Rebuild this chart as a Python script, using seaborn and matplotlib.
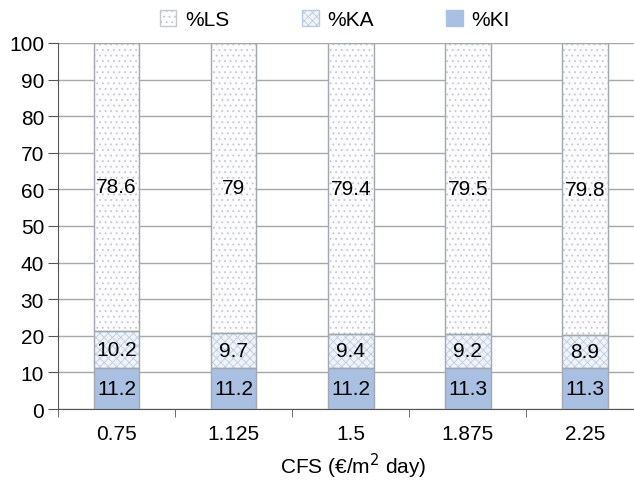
import matplotlib
matplotlib.use("Agg")
import matplotlib.pyplot as plt
import seaborn as sns
import pandas as pd
from matplotlib.patches import Patch

# data
cfs = ["0.75", "1.125", "1.5", "1.875", "2.25"]
ki = [11.2, 11.2, 11.2, 11.3, 11.3]
ka = [10.2, 9.7, 9.4, 9.2, 8.9]
ls = [78.6, 79.0, 79.4, 79.5, 79.8]
ls_labels = ["78.6", "79", "79.4", "79.5", "79.8"]

df = pd.DataFrame({"CFS": cfs, "KI": ki, "KA": ka, "LS": ls})
df["KA_bottom"] = df["KI"]
df["LS_bottom"] = df["KI"] + df["KA"]

sns.set_style("white")
plt.rcParams["font.family"] = ["Liberation Sans", "DejaVu Sans"]
plt.rcParams["hatch.linewidth"] = 0.6
plt.rcParams["text.color"] = "black"
plt.rcParams["xtick.color"] = "black"
plt.rcParams["ytick.color"] = "black"
plt.rcParams["axes.labelcolor"] = "black"

fig = plt.figure(figsize=(6.34, 4.81), dpi=100)
ax = fig.add_axes([58 / 634, 1 - 410 / 481, 585.5 / 634, 366 / 481])

W = 0.39
edge = "#a2a8b0"
FS = 15

# layers: (column, bottom, face, hatch, hatch colour)
layers = [
    ("KI", None, "#a9c0e2", "", "#a9c0e2"),
    ("KA", "KA_bottom", "#f0f4fa", "xxxx", "#b9cbe2"),
    ("LS", "LS_bottom", "#fcfcfd", "...", "#c4c9cf"),
]

for col, bcol, face, hatch, hcol in layers:
    bottom = df[bcol].values if bcol else 0
    sns.barplot(data=df, x="CFS", y=col, bottom=bottom, width=W, color=face,
                saturation=1, hatch=hatch, edgecolor=hcol, linewidth=0,
                ax=ax, zorder=2)
    sns.barplot(data=df, x="CFS", y=col, bottom=bottom, width=W, color="white",
                fill=False, edgecolor=edge, linewidth=1.0, ax=ax, zorder=3)

# value labels in the middle of each segment
for i in range(len(cfs)):
    ax.text(i, ki[i] / 2, f"{ki[i]:.1f}", ha="center", va="center",
            fontsize=FS, zorder=4)
    ax.text(i, ki[i] + ka[i] / 2, f"{ka[i]:.1f}", ha="center", va="center",
            fontsize=FS, zorder=4)
    ax.text(i, ki[i] + ka[i] + ls[i] / 2, ls_labels[i], ha="center",
            va="center", fontsize=FS, zorder=4)

ax.set_xlim(-0.5, 4.5)
ax.set_ylim(0, 100)
ax.set_yticks(range(0, 101, 10))
ax.yaxis.grid(True, color="#a8a8a8", linewidth=1.0, zorder=0)
ax.set_axisbelow(True)

for s in ["top", "right"]:
    ax.spines[s].set_visible(False)
ax.spines["left"].set_color("#555555")
ax.spines["bottom"].set_color("#555555")
ax.spines["left"].set_zorder(5)

ax.tick_params(axis="y", direction="out", length=7, color="#555555",
               labelsize=FS, left=True, pad=3)
ax.tick_params(axis="x", which="major", length=0, labelsize=FS, pad=11)
ax.set_xticks([i + 0.5 for i in range(-1, 5)], minor=True)
ax.tick_params(axis="x", which="minor", direction="out", length=6,
               color="#555555", bottom=True)

ax.set_xlabel("")
ax.set_ylabel("")
# axis title placed in figure coords (the axes run past the right edge)
fig.text(353 / 634, 1 - 466 / 481, "CFS (€/m$^2$ day)", fontsize=FS,
         ha="center", va="center")

handles = [
    Patch(facecolor="#fcfcfd", edgecolor="#c4c9cf", hatch="...", label="%LS"),
    Patch(facecolor="#f0f4fa", edgecolor="#b9cbe2", hatch="xxxx", label="%KA"),
    Patch(facecolor="#a9c0e2", edgecolor="#a9c0e2", label="%KI"),
]
fig.legend(handles=handles, loc="center", bbox_to_anchor=(0.528, 0.958),
           ncol=3, frameon=False, fontsize=FS, handlelength=0.8,
           handleheight=0.8, columnspacing=3.5, handletextpad=0.4)

fig.savefig("out.png", dpi=100)
